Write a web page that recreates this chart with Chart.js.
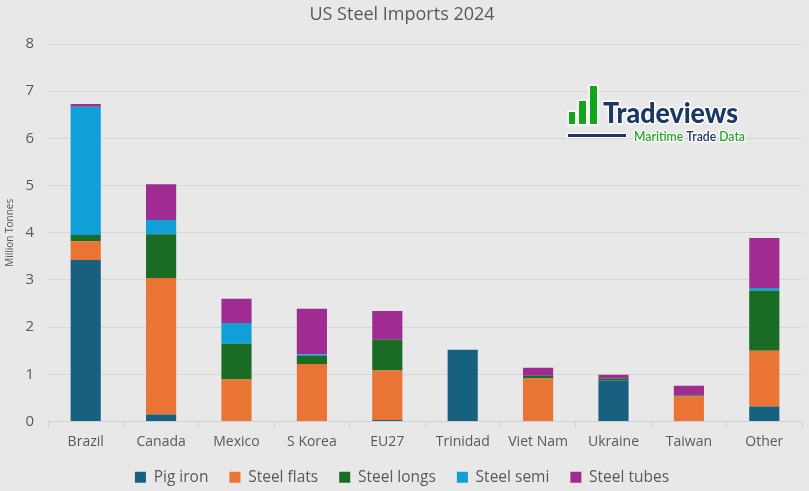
<!DOCTYPE html>
<html>
<head>
<meta charset="utf-8">
<script src="https://cdn.jsdelivr.net/npm/chart.js@4.4.1/dist/chart.umd.min.js"></script>
<style>
html,body{margin:0;padding:0;background:#e8e8e8;}
#wrap{width:809px;height:491px;}
</style>
</head>
<body>
<div id="wrap"><canvas id="c" width="809" height="491"></canvas></div>
<script>
const categories = ["Brazil","Canada","Mexico","S Korea","EU27","Trinidad","Viet Nam","Ukraine","Taiwan","Other"];
const pigIron    = [3.42, 0.15, 0,    0,    0.03, 1.52, 0,    0.87, 0,    0.32];
const steelFlats = [0.40, 2.89, 0.89, 1.22, 1.05, 0,    0.91, 0,    0.53, 1.18];
const steelLongs = [0.13, 0.93, 0.76, 0.17, 0.65, 0,    0.06, 0.04, 0.02, 1.27];
const steelSemi  = [2.72, 0.30, 0.44, 0.03, 0,    0,    0,    0,    0,    0.06];
const steelTubes = [0.06, 0.76, 0.51, 0.97, 0.61, 0,    0.17, 0.08, 0.21, 1.06];
const yTicks = [0,1,2,3,4,5,6,7,8];

const seriesNames = ["Pig iron","Steel flats","Steel longs","Steel semi","Steel tubes"];
const seriesColors = ["#17607f","#e97433","#1a6b24","#109fd6","#a02b91"];
const seriesData = [pigIron, steelFlats, steelLongs, steelSemi, steelTubes];

const FONT = "'Open Sans', 'Noto Sans', sans-serif";
const TXT = "#595959";

const logoPlugin = {
  id: 'logo',
  afterDraw(chart) {
    const ctx = chart.ctx;
    ctx.save();
    const bars = [[569,112,6,12],[579,101,7,23],[590,86,7,38]];
    ctx.fillStyle = '#ffffff';
    bars.forEach(b => ctx.fillRect(b[0]-1.5, b[1]-1.5, b[2]+3, b[3]+3));
    ctx.fillStyle = '#12a51a';
    bars.forEach(b => ctx.fillRect(b[0], b[1], b[2], b[3]));
    ctx.font = "900 29px Lato, 'Open Sans', sans-serif";
    ctx.textBaseline = 'alphabetic';
    ctx.textAlign = 'left';
    ctx.lineJoin = 'round';
    ctx.strokeStyle = '#ffffff';
    ctx.lineWidth = 3;
    ctx.strokeText('Tradeviews', 603, 123, 135);
    ctx.fillStyle = '#1b3764';
    ctx.fillText('Tradeviews', 603, 123, 135);
    ctx.fillStyle = '#ffffff';
    ctx.fillRect(567, 133, 60, 5);
    ctx.fillStyle = '#1b3764';
    ctx.fillRect(568, 134, 58, 3);
    ctx.font = "600 13px Lato, 'Open Sans', sans-serif";
    const parts = [['Maritime ', '#22a822'], ['Trade ', '#1b3764'], ['Data', '#22a822']];
    const total = parts.reduce((s,p)=>s+ctx.measureText(p[0]).width,0);
    const scale = 111/total;
    let x = 634;
    ctx.lineWidth = 2.5;
    parts.forEach(p => {
      const w = ctx.measureText(p[0]).width*scale;
      ctx.strokeText(p[0], x, 141, w);
      ctx.fillStyle = p[1];
      ctx.fillText(p[0], x, 141, w);
      x += w;
    });
    ctx.restore();
  }
};

const bgPlugin = {
  id: 'bg',
  beforeDraw(chart) {
    const ctx = chart.ctx;
    ctx.save();
    ctx.fillStyle = '#e8e8e8';
    ctx.fillRect(0,0,chart.width,chart.height);
    ctx.restore();
  }
};

new Chart(document.getElementById('c'), {
  type: 'bar',
  data: {
    labels: categories,
    datasets: seriesNames.map((n,i)=>({
      label: n,
      data: seriesData[i],
      backgroundColor: seriesColors[i],
      borderWidth: 0,
      categoryPercentage: 1,
      barPercentage: 0.4
    }))
  },
  options: {
    responsive: false,
    animation: false,
    devicePixelRatio: 1,
    layout: { padding: { left: 2, right: 7, top: 0, bottom: -4 } },
    plugins: {
      title: {
        display: true,
        text: 'US Steel Imports 2024',
        color: TXT,
        font: { family: FONT, size: 18, weight: 'normal' },
        padding: { top: 4, bottom: 18.4 }
      },
      legend: {
        position: 'bottom',
        labels: {
          color: TXT,
          font: { family: FONT, size: 15.5 },
          boxWidth: 11,
          boxHeight: 11,
          padding: 21
        }
      },
      tooltip: { enabled: false }
    },
    scales: {
      x: {
        stacked: true,
        afterFit(axis) { axis.height -= 9; },
        grid: { display: true, drawOnChartArea: false, drawTicks: true, tickLength: 6, offset: true, color: '#d0d0d0' },
        border: { display: true, color: '#d0d0d0', width: 1 },
        ticks: { color: TXT, font: { family: FONT, size: 14 }, padding: 6.6, maxRotation: 0 }
      },
      y: {
        stacked: true,
        min: 0,
        max: 8,
        afterBuildTicks(axis) { axis.ticks = yTicks.map(v=>({value:v})); },
        afterFit(axis) { axis.width = 46; },
        grid: { color: '#d6d6d6', drawTicks: false, lineWidth: 1 },
        border: { display: false },
        ticks: { color: TXT, font: { family: FONT, size: 15 }, padding: 14 },
        title: { display: true, text: 'Million Tonnes', color: TXT, font: { family: FONT, size: 10 }, padding: { top: 2, bottom: 0 } }
      }
    }
  },
  plugins: [bgPlugin, logoPlugin]
});
</script>
</body>
</html>
